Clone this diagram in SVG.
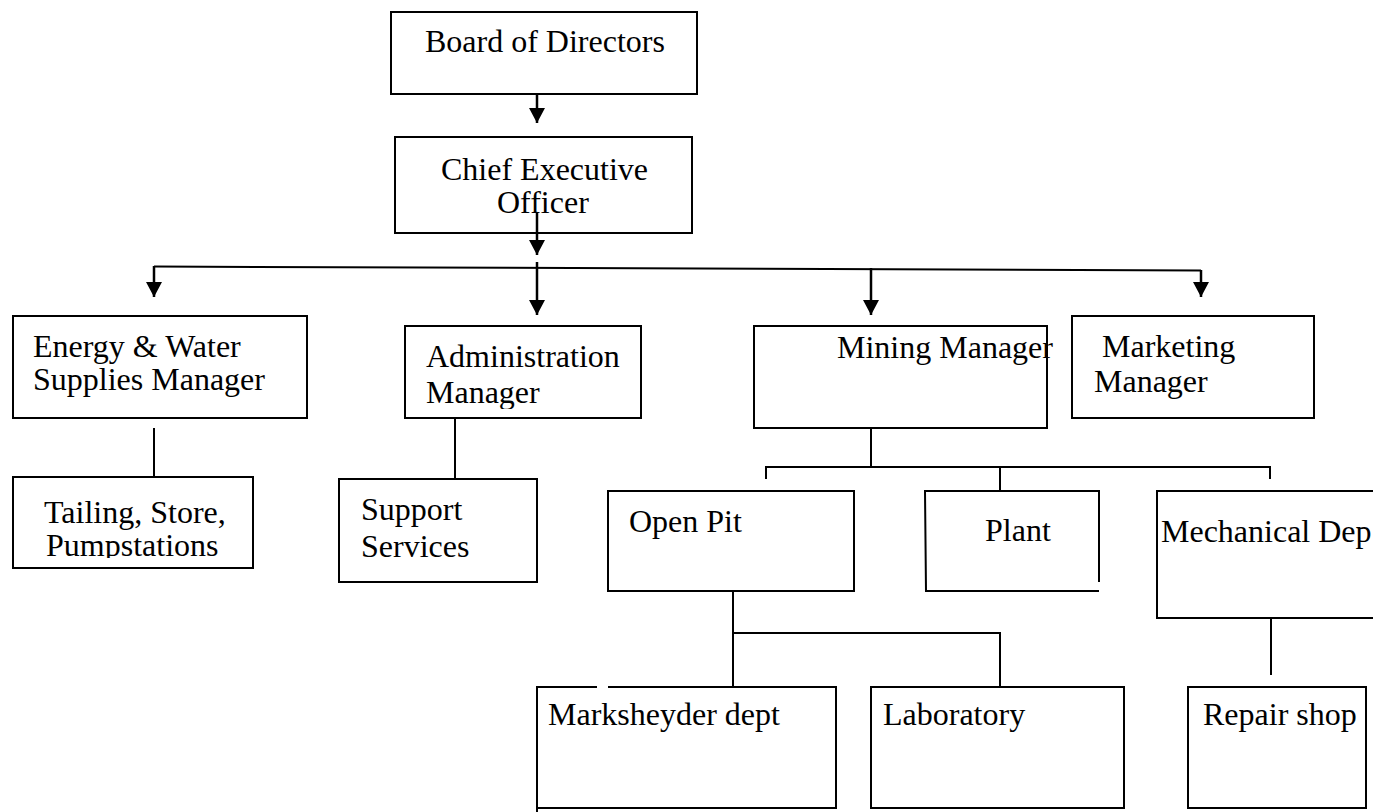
<svg xmlns="http://www.w3.org/2000/svg" width="1373" height="812" viewBox="0 0 1373 812">
<style>
.box{fill:none;stroke:#000;stroke-width:2}
.ln{fill:none;stroke:#000;stroke-width:2}
.ar{fill:none;stroke:#000;stroke-width:2.5;marker-end:url(#ah)}
.t{font-family:"Liberation Serif","Times New Roman",serif;font-size:32px;fill:#000}
</style>
<defs>
<marker id="ah" markerUnits="userSpaceOnUse" markerWidth="15" markerHeight="16" refX="15" refY="8" orient="auto">
<path d="M0,0 L15,8 L0,16 z" fill="#000"/>
</marker>
<clipPath id="clipTail"><rect x="0" y="470" width="300" height="88"/></clipPath>
<clipPath id="clipAdm"><rect x="400" y="320" width="250" height="89"/></clipPath>
</defs>
<rect width="1373" height="812" fill="#fff"/>

<g id="connectors">
<line class="ar" x1="537" y1="94" x2="537" y2="123"/>
<line class="ar" x1="537" y1="213" x2="537" y2="255"/>
<line class="ln" x1="154" y1="266.5" x2="1201" y2="270.5"/>
<line class="ar" x1="154" y1="266" x2="154" y2="297"/>
<line class="ar" x1="537" y1="262" x2="537" y2="315"/>
<line class="ar" x1="871" y1="268" x2="871" y2="315"/>
<line class="ar" x1="1201" y1="270" x2="1201" y2="297"/>
<line class="ln" x1="154" y1="428" x2="154" y2="478"/>
<line class="ln" x1="455" y1="418" x2="455" y2="479"/>
<line class="ln" x1="871" y1="428" x2="871" y2="467"/>
<path class="ln" d="M766,479 V467 H1270 V479"/>
<line class="ln" x1="1000" y1="467" x2="1000" y2="491"/>
<line class="ln" x1="733" y1="591" x2="733" y2="687"/>
<path class="ln" d="M733,633 H1000 V687"/>
<line class="ln" x1="1271" y1="618" x2="1271" y2="675"/>
</g>

<g id="board">
<rect class="box" x="391" y="12" width="306" height="82"/>
<text class="t" x="425" y="52">Board of Directors</text>
</g>
<g id="ceo">
<rect class="box" x="395" y="137" width="297" height="96"/>
<text class="t" x="441" y="180">Chief Executive</text>
<text class="t" x="497" y="213">Officer</text>
</g>
<g id="energy">
<rect class="box" x="13" y="316" width="294" height="102"/>
<text class="t" x="33" y="357">Energy &amp; Water</text>
<text class="t" x="33" y="390">Supplies Manager</text>
</g>
<g id="tailing">
<rect class="box" x="13" y="477" width="240" height="91"/>
<text class="t" x="44" y="523">Tailing, Store,</text>
<text class="t" x="46" y="556" clip-path="url(#clipTail)">Pumpstations</text>
</g>
<g id="admin">
<rect class="box" x="405" y="326" width="236" height="92"/>
<text class="t" x="426" y="367">Administration</text>
<text class="t" x="426" y="403" clip-path="url(#clipAdm)">Manager</text>
</g>
<g id="support">
<rect class="box" x="339" y="479" width="198" height="103"/>
<text class="t" x="361" y="520">Support</text>
<text class="t" x="361" y="557">Services</text>
</g>
<g id="mining">
<rect class="box" x="754" y="326" width="293" height="102"/>
<text class="t" x="837" y="358">Mining Manager</text>
</g>
<g id="marketing">
<rect class="box" x="1072" y="316" width="242" height="102"/>
<text class="t" x="1102" y="357">Marketing</text>
<text class="t" x="1094" y="392">Manager</text>
</g>
<g id="openpit">
<rect class="box" x="608" y="491" width="246" height="100"/>
<text class="t" x="629" y="532">Open Pit</text>
</g>
<g id="plant">
<path class="box" d="M1099,582 V491 H925 L926,591 H1099"/>
<text class="t" x="985" y="541">Plant</text>
</g>
<g id="mechanical">
<path class="box" d="M1374,491 H1157 V618 H1374"/>
<text class="t" x="1161" y="542">Mechanical Dep</text>
</g>
<g id="marksheyder">
<path class="box" d="M597,687 H537 V812 M537,808 H836 V687 H608"/>
<text class="t" x="548" y="725">Marksheyder dept</text>
</g>
<g id="laboratory">
<rect class="box" x="871" y="687" width="253" height="121"/>
<text class="t" x="883" y="725">Laboratory</text>
</g>
<g id="repair">
<rect class="box" x="1188" y="687" width="178" height="121"/>
<text class="t" x="1203" y="725">Repair shop</text>
</g>
</svg>
